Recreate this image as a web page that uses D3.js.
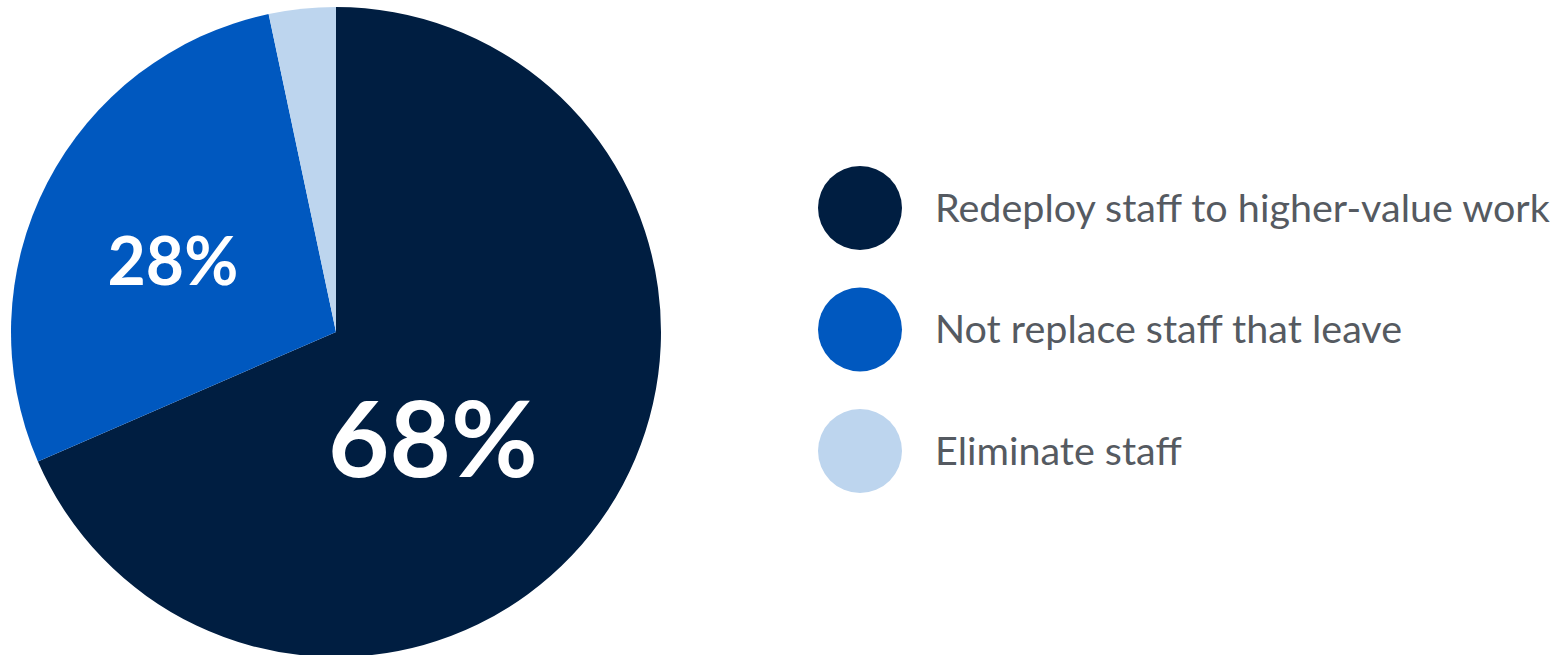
<!doctype html>
<html>
<head>
<script src="https://d3js.org/d3.v7.min.js"></script>
<style>
body { margin: 0; background: #fff; }
svg { display: block; }
</style>
</head>
<body>
<script>
// data
var categories = ['Redeploy staff to higher-value work', 'Not replace staff that leave', 'Eliminate staff'];
var shares = [68, 28, 3.3];
var shownLabels = ['68%', '28%', ''];
var colours = ['#001e41', '#0058bf', '#bdd5ee'];

var width = 1566, height = 655;
var cx = 336, cy = 332, radius = 325;

var svg = d3.select('body').append('svg')
	.attr('width', width)
	.attr('height', height);

var pie = d3.pie().sort(null).value(function(d){ return d; });
var arc = d3.arc().innerRadius(0).outerRadius(radius);
var slices = pie(shares);

var pieG = svg.append('g').attr('transform', 'translate(' + cx + ',' + cy + ')');

pieG.selectAll('path')
	.data(slices)
	.enter().append('path')
		.attr('d', arc)
		.attr('fill', function(d, i){ return colours[i]; });

// labels sit near the slice centroid, nudged to where the original put them
var labelArc = d3.arc().innerRadius(radius * 0.53).outerRadius(radius * 0.53);
var labelSize = [106, 66, 0];
var labelNudge = [[-47, 10], [-10, 6], [0, 0]];

pieG.selectAll('text.pct')
	.data(slices)
	.enter().append('text')
		.attr('class', 'pct')
		.attr('transform', function(d, i){
			var c = labelArc.centroid(d);
			return 'translate(' + (c[0] + labelNudge[i][0]) + ',' + (c[1] + labelNudge[i][1]) + ')';
		})
		.attr('text-anchor', 'middle')
		.attr('dominant-baseline', 'central')
		.style('font-family', 'Lato, "Noto Sans", sans-serif')
		.style('font-weight', 700)
		.style('font-size', function(d, i){ return labelSize[i] + 'px'; })
		.style('fill', '#ffffff')
		.text(function(d, i){ return shownLabels[i]; });

// legend
var legendY = d3.scalePoint().domain(categories).range([208, 451]);
var legend = svg.append('g').selectAll('g')
	.data(categories)
	.enter().append('g')
		.attr('transform', function(d){ return 'translate(860,' + legendY(d) + ')'; });

legend.append('circle')
	.attr('r', 42)
	.attr('fill', function(d, i){ return colours[i]; });

legend.append('text')
	.attr('x', 75)
	.attr('dy', '0.35em')
	.style('font-family', 'Lato, "Noto Sans", sans-serif')
	.style('font-size', '39.5px')
	.style('fill', '#555a61')
	.text(function(d){ return d; });
</script>
</body>
</html>
